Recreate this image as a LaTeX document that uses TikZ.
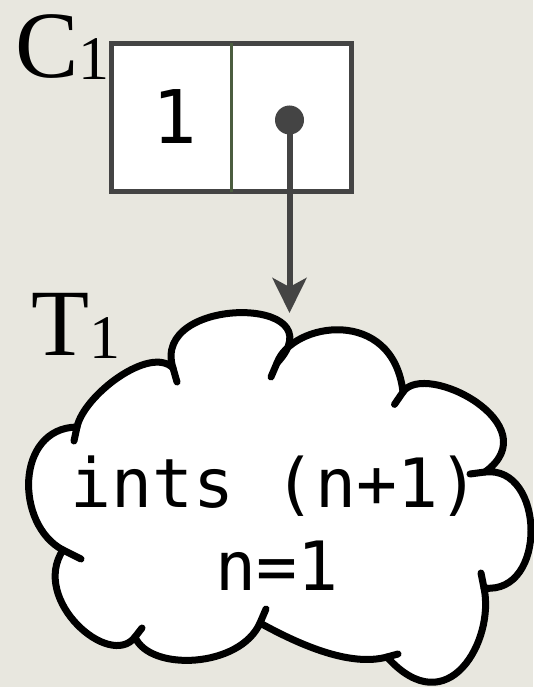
\documentclass[tikz,border=0pt]{standalone}
\usepackage{fontspec}
\setmainfont{Liberation Serif}
\setmonofont{DejaVu Sans Mono}
\usetikzlibrary{arrows.meta}

\definecolor{paper}{HTML}{E8E7DF}
\definecolor{boxgray}{HTML}{444444}
\definecolor{divgreen}{HTML}{4B5D3F}

\begin{document}
\begin{tikzpicture}[x=1pt, y=-1pt, line cap=round, line join=round,
  cellbox/.style={draw=boxgray, line width=5pt, fill=white, line cap=butt, line join=miter,
                  minimum width=240pt, minimum height=147.5pt, inner sep=0pt},
  divider/.style={draw=divgreen, line width=3.5pt, line cap=butt},
  ptr/.style={draw=boxgray, line width=6pt, -{Stealth[length=35pt, width=34pt, inset=9pt]}},
  ptrdot/.style={circle, fill=boxgray, minimum size=29pt, inner sep=0pt},
  cloudline/.style={draw=black, line width=7pt, fill=white},
  cloudtick/.style={draw=black, line width=7pt},
  codetext/.style={font=\ttfamily\fontsize{68}{80}\selectfont, inner sep=0pt, anchor=base},
  labeltag/.style={font=\fontsize{95}{110}\selectfont, inner sep=0pt, anchor=base west}]

  %% ════ 底色 ════
  \fill[paper] (0,0) rectangle (533,687);

  %% ════ 格子 C1 ════
  \node[cellbox] (cell) at (231.5,117.25) {};
  \draw[divider] ([yshift=-2pt]cell.north) -- ([yshift=2pt]cell.south);
  \node[codetext, font=\ttfamily\fontsize{74}{86}\selectfont] (valone) at (175,144) {1};

  %% ════ 指针 ════
  \coordinate (tip) at (289.5,313);
  \draw[ptr] (289.5,120) -- (tip);
  \node[ptrdot] (dot) at (289.5,120) {};

  %% ════ 云 T1（十段弧）════
  \filldraw[cloudline] (77,427) .. controls (84,395) and (150,345) .. (173,368)
    .. controls (150,295) and (340,295) .. (277,363)
    .. controls (292,322) and (393,306) .. (403,392)
    .. controls (425,360) and (550,425) .. (485,472)
    .. controls (545,465) and (548,595) .. (484,588)
    .. controls (495,640) and (448,725) .. (387,657)
    .. controls (350,667) and (300,645) .. (260,623)
    .. controls (240,668) and (150,672) .. (135,637)
    .. controls (110,670) and (30,600) .. (63,550)
    .. controls (15,525) and (15,428) .. (77,427) -- cycle;

  %% 弧与弧相交处的小尾巴
  \draw[cloudtick] (77,427) -- (74,441);
  \draw[cloudtick] (173,368) -- (177,382);
  \draw[cloudtick] (277,363) -- (271,377);
  \draw[cloudtick] (403,392) -- (394.5,404.4);
  \draw[cloudtick] (485,472) -- (470,474);
  \draw[cloudtick] (484,588) -- (481,573);
  \draw[cloudtick] (387,657) -- (398,654);
  \draw[cloudtick] (260,623) -- (266,609);
  \draw[cloudtick] (135,637) -- (142,628);
  \draw[cloudtick] (63,550) -- (81,559);

  %% ════ 云中文字 ════
  \node[codetext] (callexpr) at (275,507) {ints (n+1)};
  \node[codetext] (binding) at (277,590) {n=1};

  %% ════ 标签 ════
  \node[labeltag] (cname) at (15,78) {C{\fontsize{62}{70}\selectfont\raisebox{-2pt}{1}}};
  \node[labeltag] (tname) at (31,355) {T{\fontsize{62}{70}\selectfont\raisebox{-3pt}{1}}};

  % 钉死画布
  \pgfresetboundingbox
  \path[use as bounding box] (0,0) rectangle (533,687);
\end{tikzpicture}
\end{document}
